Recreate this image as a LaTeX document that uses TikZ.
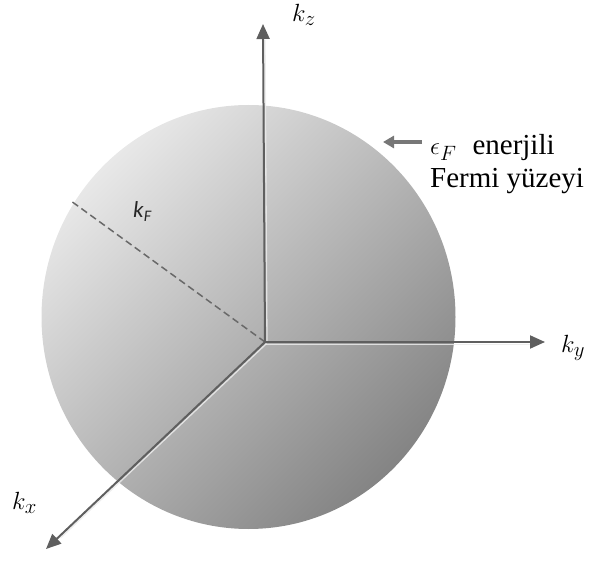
\documentclass[tikz,border=0pt]{standalone}
\usepackage{fontspec}
\setmainfont{Liberation Serif}
\newfontfamily\kffont{Carlito}
\usetikzlibrary{arrows.meta,calc}
\definecolor{sphtop}{RGB}{232,232,232}
\definecolor{sphbot}{RGB}{132,132,132}
\definecolor{axisgray}{RGB}{95,95,95}
\definecolor{hilite}{RGB}{235,235,235}
\definecolor{dashgray}{RGB}{105,105,105}
\begin{document}
\begin{tikzpicture}[x=1pt,y=-1pt,
  axisline/.style={draw=axisgray, line width=2pt, -{Triangle[length=15pt,width=13pt]}},
  hiline/.style={draw=hilite, line width=1.3pt, opacity=0.85},
  radius line/.style={draw=dashgray, line width=1.5pt, dash pattern=on 7pt off 4pt},
  surfarrow/.style={draw=axisgray!85, line width=3.5pt, -{Triangle[length=11pt,width=12pt]}},
  mlabel/.style={inner sep=0pt, anchor=base west, font=\fontsize{32}{34}\selectfont},
  tlabel/.style={inner sep=0pt, anchor=base west, font=\fontsize{29}{32}\selectfont}]
\useasboundingbox (0,0) rectangle (595,561);
% sphere
\shade[top color=sphtop, bottom color=sphbot, shading angle=45]
  (248.5,317) ellipse [x radius=207, y radius=212];
% coordinates
\coordinate (O) at (265,342);
\coordinate (zt) at (263,24);
\coordinate (yt) at (545,342);
\coordinate (xt) at (46,549);
\coordinate (rf) at (71,201);
\coordinate (st) at (383,142);
% highlights
\draw[hiline] ([xshift=2pt]O) -- ([xshift=2pt,yshift=-16pt]zt);
\draw[hiline] ([yshift=-2.2pt]O) -- ([xshift=-15pt,yshift=-2.2pt]yt);
\draw[hiline] ([xshift=1.5pt,yshift=-1.6pt]O) -- ([xshift=14.5pt,yshift=11pt]xt);
% radius
\draw[radius line] (O) -- (rf);
% axes
\draw[axisline] (O) -- (zt);
\draw[axisline] (O) -- (yt);
\draw[axisline] (O) -- (xt);
% labels
\node[mlabel] (kz) at (292,22) {$k_z$};
\node[mlabel] (ky) at (561,353) {$k_y$};
\node[mlabel] (kx) at (12,510) {$k_x$};
\node[inner sep=0pt, anchor=base west, text=black!85, font=\kffont\fontsize{23}{24}\selectfont] (kf) at (133,218) {\textit{k}\textsubscript{\textit{F}}};
\node[tlabel] (eps) at (430,155) {\fontsize{32}{34}\selectfont$\epsilon_F$\hspace{16pt}\fontsize{29}{32}\selectfont enerjili};
\node[tlabel] (fermi) at (430,188) {Fermi yüzeyi};
\draw[surfarrow] ($(eps.west |- st)+(-8,0)$) -- (st);
\end{tikzpicture}
\end{document}
